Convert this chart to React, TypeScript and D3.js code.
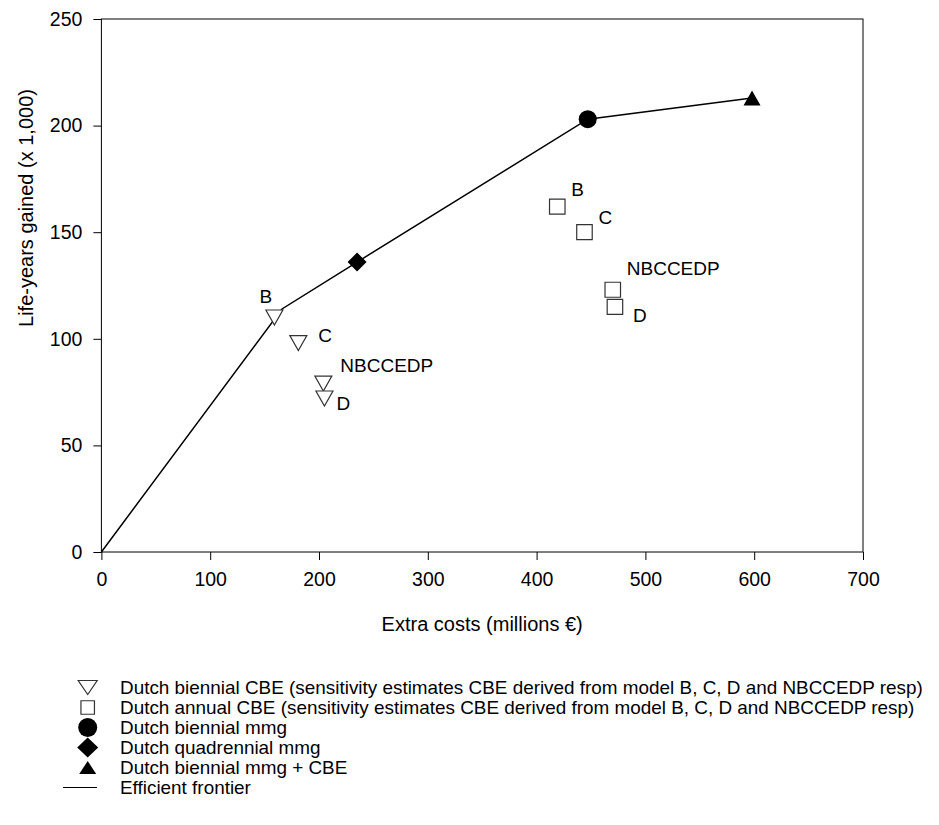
import React, { useEffect, useRef } from "react";
import * as d3 from "d3";

// Data
const biennialLabels = ["B", "C", "NBCCEDP", "D"];
const biennialCosts = [159, 181, 204, 205];
const biennialLifeYears = [110, 98, 79, 72];

const annualLabels = ["B", "C", "NBCCEDP", "D"];
const annualCosts = [419, 444, 470, 472];
const annualLifeYears = [162, 150, 123, 115];

const mmgBiennial = { cost: 447, ly: 203 };
const mmgQuadrennial = { cost: 235, ly: 136 };
const mmgPlusCBE = { cost: 598, ly: 213 };

const frontierCosts = [0, 166, 235, 447, 598];
const frontierLifeYears = [0, 114, 136, 203, 213];

const xTicks = [0, 100, 200, 300, 400, 500, 600, 700];
const yTicks = [0, 50, 100, 150, 200, 250];

const legendLabels = [
  "Dutch biennial CBE (sensitivity estimates CBE derived from model B, C, D and NBCCEDP resp)",
  "Dutch annual CBE (sensitivity estimates CBE derived from model B, C, D and NBCCEDP resp)",
  "Dutch biennial mmg",
  "Dutch quadrennial mmg",
  "Dutch biennial mmg + CBE",
  "Efficient frontier",
];

// label offsets (pixels from marker centre)
const biennialLabelOffsets = [
  [-15, -14],
  [20, -1],
  [17, -12],
  [12, 12],
];
const annualLabelOffsets = [
  [14, -11],
  [14, -8],
  [14, -15],
  [18, 15],
];

const FONT = "'Liberation Sans', Arial, sans-serif";

const App: React.FC = () => {
  const svgRef = useRef<SVGSVGElement | null>(null);

  useEffect(() => {
    const svg = d3.select(svgRef.current);
    svg.selectAll("*").remove();

    const x = d3.scaleLinear().domain([0, 700]).range([101.4, 863]);
    const y = d3.scaleLinear().domain([0, 250]).range([552, 19]);

    const addText = (
      g: d3.Selection<any, unknown, null, undefined>,
      tx: number,
      ty: number,
      str: string,
      size: number,
      anchor = "start",
      rotate = 0,
      stretch = 1
    ) =>
      g
        .append("text")
        .attr(
          "transform",
          `translate(${tx},${ty})${rotate ? ` rotate(${rotate})` : ""} scale(${stretch},1)`
        )
        .attr("text-anchor", anchor)
        .style("font-family", FONT)
        .style("font-size", `${size}px`)
        .attr("fill", "#000")
        .text(str);

    // frame
    svg
      .append("rect")
      .attr("x", x(0))
      .attr("y", y(250))
      .attr("width", x(700) - x(0))
      .attr("height", y(0) - y(250))
      .attr("fill", "none")
      .attr("stroke", "#000")
      .attr("stroke-width", 1);

    // axes
    const yAxis = svg
      .append("g")
      .attr("transform", `translate(${x(0)},0)`)
      .call(d3.axisLeft(y).tickValues(yTicks).tickSize(8).tickPadding(11).tickSizeOuter(0));
    const xAxis = svg
      .append("g")
      .attr("transform", `translate(0,${y(0)})`)
      .call(d3.axisBottom(x).tickValues(xTicks).tickSize(8).tickPadding(12).tickSizeOuter(0));
    [yAxis, xAxis].forEach((a) => {
      a.select(".domain").remove();
      a.selectAll("line").attr("stroke", "#000");
      a.selectAll("text")
        .style("font-family", FONT)
        .style("font-size", "19.5px")
        .attr("fill", "#000");
    });

    // axis titles
    addText(svg, (x(0) + x(700)) / 2, 631, "Extra costs (millions €)", 20, "middle");
    addText(svg, 33, 208, "Life-years gained (x 1,000)", 20, "middle", -90);

    // efficient frontier
    const line = d3
      .line<number>()
      .x((d) => x(frontierCosts[d]))
      .y((d) => y(frontierLifeYears[d]));
    svg
      .append("path")
      .attr("d", line(d3.range(frontierCosts.length)))
      .attr("fill", "none")
      .attr("stroke", "#000")
      .attr("stroke-width", 1.5);

    // marker shapes
    const triDown = (w: number, h: number) => `M${-w / 2},${-h / 2}L${w / 2},${-h / 2}L0,${h / 2}Z`;
    const triUp = (w: number, h: number) => `M${-w / 2},${h / 2}L${w / 2},${h / 2}L0,${-h / 2}Z`;
    const square = (w: number, h: number) => `M${-w / 2},${-h / 2}h${w}v${h}h${-w}Z`;
    const diamond = (w: number, h: number) => `M0,${-h / 2}L${w / 2},0L0,${h / 2}L${-w / 2},0Z`;
    const circle = (w: number, h: number) =>
      `M${-w / 2},0A${w / 2},${h / 2} 0 1,0 ${w / 2},0A${w / 2},${h / 2} 0 1,0 ${-w / 2},0Z`;

    const marker = (
      g: d3.Selection<any, unknown, null, undefined>,
      cx: number,
      cy: number,
      d: string,
      filled: boolean
    ) =>
      g
        .append("path")
        .attr("transform", `translate(${cx},${cy})`)
        .attr("d", d)
        .attr("fill", filled ? "#000" : "#fff")
        .attr("stroke", filled ? "none" : "#333")
        .attr("stroke-width", 1.2);

    // biennial CBE triangles
    biennialCosts.forEach((c, i) => {
      marker(svg, x(c), y(biennialLifeYears[i]), triDown(17, 15), false);
    });
    biennialCosts.forEach((c, i) => {
      const [dx, dy] = biennialLabelOffsets[i];
      addText(svg, x(c) + dx, y(biennialLifeYears[i]) + dy, biennialLabels[i], 19);
    });

    // annual CBE squares
    annualCosts.forEach((c, i) => {
      marker(svg, x(c), y(annualLifeYears[i]), square(15.5, 15), false);
      const [dx, dy] = annualLabelOffsets[i];
      addText(svg, x(c) + dx, y(annualLifeYears[i]) + dy, annualLabels[i], 19);
    });

    // mmg points
    marker(svg, x(mmgBiennial.cost), y(mmgBiennial.ly), circle(18, 18), true);
    marker(svg, x(mmgQuadrennial.cost), y(mmgQuadrennial.ly), diamond(19, 19), true);
    marker(svg, x(mmgPlusCBE.cost), y(mmgPlusCBE.ly), triUp(17, 15), true);

    // legend
    const legend = svg.append("g");
    const legendShapes = [
      { d: triDown(19, 14), filled: false },
      { d: square(13.5, 13.5), filled: false },
      { d: circle(19, 19), filled: true },
      { d: diamond(21, 20), filled: true },
      { d: triUp(17, 13), filled: true },
    ];
    legendLabels.forEach((lab, i) => {
      const cy = 687.5 + i * 20;
      if (i < legendShapes.length) {
        marker(legend, 87.7, cy, legendShapes[i].d, legendShapes[i].filled);
      } else {
        legend
          .append("line")
          .attr("x1", 63)
          .attr("x2", 97)
          .attr("y1", cy)
          .attr("y2", cy)
          .attr("stroke", "#000")
          .attr("stroke-width", 1.2);
      }
      addText(legend, 120, cy + 6, lab, 17.5, "start", 0, 1.08);
    });
  }, []);

  return (
    <svg
      ref={svgRef}
      width={939}
      height={825}
      style={{ position: "absolute", left: 0, top: 0, background: "#fff" }}
    />
  );
};

export default App;
